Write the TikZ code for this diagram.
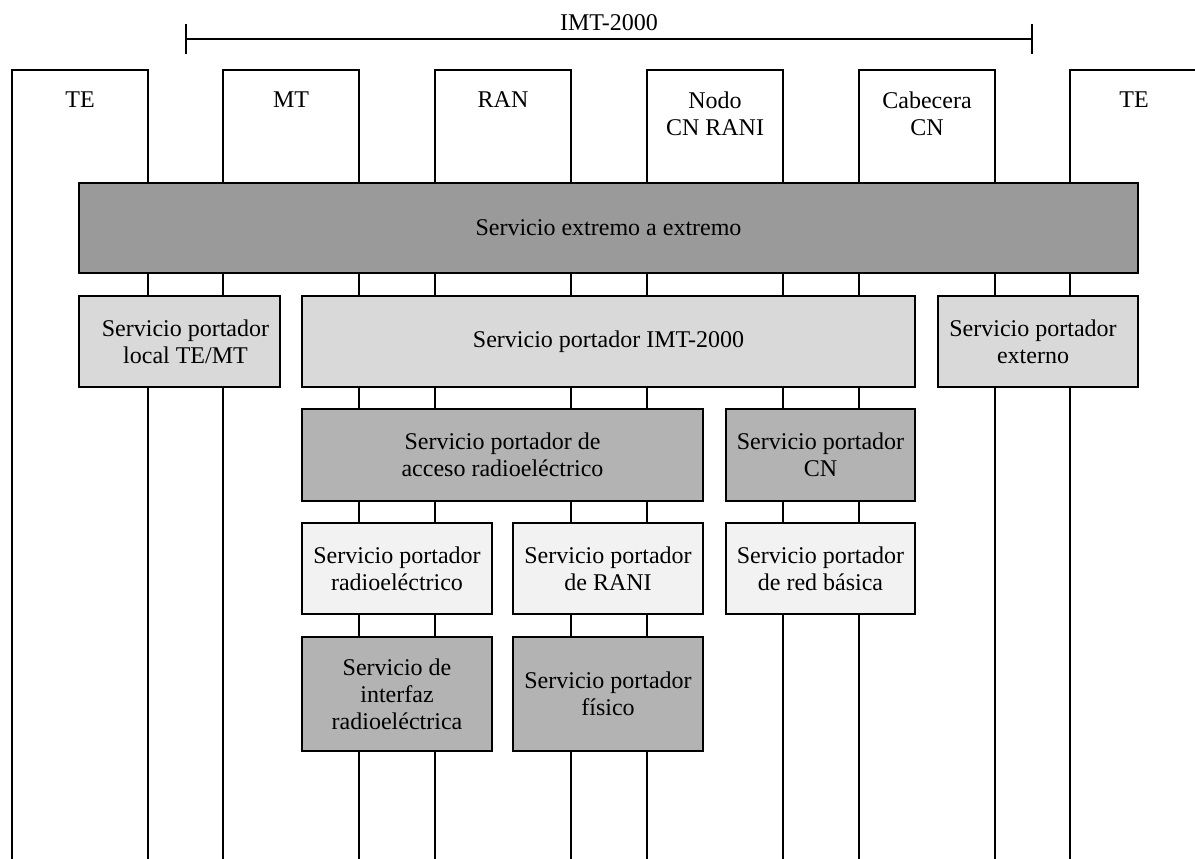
\documentclass[tikz,border=0pt]{standalone}
\usepackage{fontspec}
\setmainfont{Liberation Serif}
\definecolor{gA}{HTML}{9A9A9A}
\definecolor{gB}{HTML}{D9D9D9}
\definecolor{gC}{HTML}{B3B3B3}
\definecolor{gD}{HTML}{F2F2F2}
\begin{document}
\begin{tikzpicture}[x=0.5pt,y=-0.5pt,
  ln/.style={line width=0.65pt,line cap=rect},
  bx/.style={draw,line width=0.65pt,inner sep=0pt,align=center,
    font=\fontsize{12}{13.5}\selectfont},
  hd/.style={inner sep=0pt,align=center,font=\fontsize{12}{13.5}\selectfont}]
\useasboundingbox (0,0) rectangle (1195,858);
% IMT-2000 bracket
\coordinate (bl) at (186,39);
\coordinate (br) at (1032,39);
\draw[line width=0.9pt] (bl) -- (br);
\draw[line width=0.9pt] ([yshift=7.5pt]bl) -- ([yshift=-7.5pt]bl);
\draw[line width=0.9pt] ([yshift=7.5pt]br) -- ([yshift=-7.5pt]br);
\node[hd] (imt) at (609,23) {IMT-2000};
% header columns
\draw[ln] (12,858) -- (12,70) -- (148,70) -- (148,858);
\draw[ln] (223,858) -- (223,70) -- (359,70) -- (359,858);
\draw[ln] (435,858) -- (435,70) -- (571,70) -- (571,858);
\draw[ln] (647,858) -- (647,70) -- (783,70) -- (783,858);
\draw[ln] (859,858) -- (859,70) -- (995,70) -- (995,858);
\draw[ln] (1070,858) -- (1070,70) -- (1196,70);
\node[hd] (te1) at (80,100) {TE};
\node[hd] (mt) at (291,100) {MT};
\node[hd] (ran) at (503,100) {RAN};
\node[hd] (nodo) at (715,114) {Nodo\\CN RANI};
\node[hd] (cab) at (927,114) {Cabecera\\CN};
\node[hd] (te2) at (1134,100) {TE};
% service boxes
\node[bx,fill=gA,minimum width=529.5pt,minimum height=45pt] (e2e) at (608.5,228) {Servicio extremo a extremo};
\node[bx,fill=gB,minimum width=100.5pt,minimum height=45.5pt] (loc) at (179.5,341.5) {\hspace*{6pt}Servicio portador\\\hspace*{6pt}local TE/MT};
\node[bx,fill=gB,minimum width=306.5pt,minimum height=45.5pt] (imtb) at (608.5,341.5) {Servicio portador IMT-2000};
\node[bx,fill=gB,minimum width=100pt,minimum height=45.5pt] (ext) at (1038,341.5) {Servicio portador\hspace*{5pt}\\externo\hspace*{5pt}};
\node[bx,fill=gC,minimum width=200.5pt,minimum height=46pt] (rab) at (502.5,455) {Servicio portador de\\acceso radioeléctrico};
\node[bx,fill=gC,minimum width=94.5pt,minimum height=46pt] (cnb) at (820.5,455) {Servicio portador\\CN};
\node[bx,fill=gD,minimum width=95pt,minimum height=45.5pt] (rb) at (397,568.5) {Servicio portador\\radioeléctrico};
\node[bx,fill=gD,minimum width=95pt,minimum height=45.5pt] (ranib) at (608,568.5) {Servicio portador\\de RANI};
\node[bx,fill=gD,minimum width=94.5pt,minimum height=45.5pt] (bb) at (820.5,568.5) {Servicio portador\\de red básica};
\node[bx,fill=gC,minimum width=95pt,minimum height=57pt] (rif) at (397,694) {Servicio de\\interfaz\\radioeléctrica};
\node[bx,fill=gC,minimum width=95pt,minimum height=57pt] (phy) at (608,694) {Servicio portador\\físico};
\end{tikzpicture}
\end{document}
